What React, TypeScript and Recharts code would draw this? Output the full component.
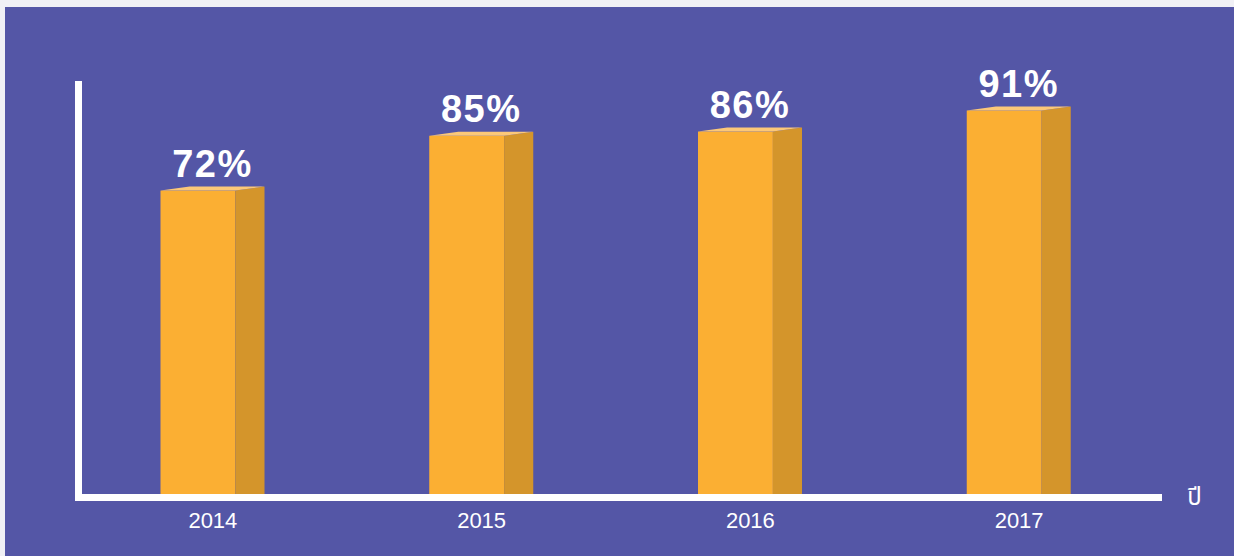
import React from 'react';
import { BarChart, Bar, XAxis, YAxis, LabelList } from 'recharts';

const years = ['2014', '2015', '2016', '2017'];
const rates = [72, 85, 86, 91];
const axisUnit = 'ปี';

const data = years.map((year, i) => ({ year, rate: rates[i] }));

const FRONT = '#FBAF33';
const SIDE = '#D4952B';
const TOP = '#FCC878';
const BG = '#5456A6';
const FONT = '"Liberation Sans", Arial, Helvetica, sans-serif';

// front face + right side face + thin slanted top
const Box3D = (props: any) => {
  const { x, y, width, height } = props;
  if (!height || height <= 0) return null;
  const front = width * 0.72;
  const rise = 4;
  const base = y + height;
  return (
    <g>
      <rect x={x} y={y} width={front} height={height} fill={FRONT} />
      <polygon
        points={`${x + front},${y} ${x + width},${y - rise} ${x + width},${base} ${x + front},${base}`}
        fill={SIDE}
      />
      <polygon
        points={`${x},${y} ${x + width * 0.28},${y - rise} ${x + width},${y - rise} ${x + front},${y}`}
        fill={TOP}
      />
    </g>
  );
};

const PctLabel = (props: any) => {
  const { x, y, width, value } = props;
  return (
    <text
      x={x + width / 2}
      y={y - 14}
      textAnchor="middle"
      fill="#fff"
      fontFamily={FONT}
      fontWeight="bold"
      fontSize={38}
      letterSpacing={1.5}
    >
      {value}%
    </text>
  );
};

const YearTick = (props: any) => {
  const { x, payload } = props;
  return (
    <text x={x} y={521} textAnchor="middle" fill="#fff" fontFamily={FONT} fontSize={22}>
      {payload.value}
    </text>
  );
};

const UnitLabel = (props: any) => {
  const { viewBox } = props;
  return (
    <text
      x={viewBox.x + viewBox.width + 36}
      y={498}
      textAnchor="middle"
      fill="#fff"
      fontFamily={'"Noto Sans", "Noto Sans Thai", "DejaVu Sans", sans-serif'}
      fontSize={24}
    >
      {axisUnit}
    </text>
  );
};

export default function App() {
  return (
    <div style={{ position: 'absolute', left: 0, top: 0, width: 1234, height: 556, background: '#F0F0F5' }}>
      <div style={{ position: 'absolute', left: 5, top: 7, width: 1229, height: 549, background: BG }}>
        <BarChart
          width={1229}
          height={549}
          data={data}
          margin={{ top: 74, right: 75.5, bottom: 0, left: 72.5 }}
          barCategoryGap={0}
        >
          <XAxis
            dataKey="year"
            height={58.5}
            padding={{ left: 0, right: 5 }}
            axisLine={{ stroke: '#fff', strokeWidth: 7, strokeLinecap: 'square' }}
            tickLine={false}
            tick={<YearTick />}
            label={<UnitLabel />}
          />
          <YAxis
            width={1}
            domain={[0, 98]}
            padding={{ top: 0, bottom: 3.5 }}
            axisLine={{ stroke: '#fff', strokeWidth: 7 }}
            tickLine={false}
            tick={false}
          />
          <Bar dataKey="rate" barSize={104} shape={<Box3D />} isAnimationActive={false}>
            <LabelList dataKey="rate" content={<PctLabel />} />
          </Bar>
        </BarChart>
      </div>
    </div>
  );
}
